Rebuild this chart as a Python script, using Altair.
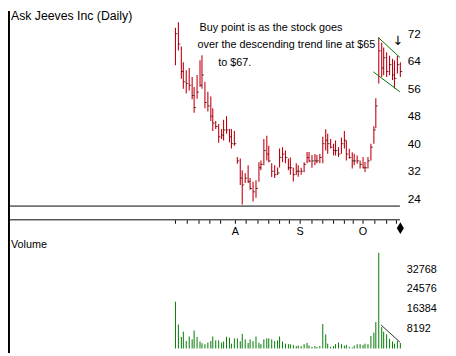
import altair as alt
import pandas as pd

# ---------------- data ----------------
high = [73.7, 75.3, 68.3, 63.7, 61.4, 62.0, 59.4, 56.5, 60.0, 64.3,
        65.7, 58.0, 55.1, 53.7, 50.3, 46.6, 45.7, 44.3, 47.0, 48.0,
        44.3, 44.3, 43.7, 36.1, 35.7, 32.3, 31.4, 33.7, 30.0, 28.9,
        29.4, 34.6, 35.1, 41.4, 42.3, 39.4, 34.3, 33.7, 33.1, 38.6,
        39.0, 38.0, 35.7, 36.0, 33.0, 34.3, 33.7, 33.0, 34.6, 37.6,
        37.6, 36.7, 37.0, 36.7, 37.0, 42.0, 44.2, 42.9, 41.4, 40.0,
        40.9, 39.0, 41.8, 43.7, 40.9, 38.5, 37.5, 37.1, 36.6, 35.1,
        36.1, 34.7, 36.1, 40.0, 45.1, 53.2, 70.9, 69.4, 68.0, 66.6,
        65.6, 64.7, 64.2, 65.6, 63.7]
low = [62.8, 67.1, 58.9, 56.0, 54.6, 55.5, 52.9, 49.0, 53.1, 56.6,
       56.0, 50.3, 49.4, 46.6, 43.7, 44.3, 40.3, 41.4, 40.9, 42.9,
       40.4, 38.6, 39.4, 34.2, 28.0, 22.3, 28.6, 28.6, 26.6, 23.2,
       24.3, 28.9, 32.3, 33.7, 35.1, 34.6, 30.3, 30.0, 30.9, 33.1,
       34.6, 34.3, 32.3, 31.0, 29.0, 30.9, 30.4, 31.0, 31.7, 34.3,
       34.6, 33.0, 33.7, 34.3, 34.3, 34.3, 38.0, 37.1, 38.6, 36.6,
       36.6, 36.1, 37.1, 38.6, 35.1, 35.6, 32.8, 33.7, 34.2, 32.8,
       32.8, 31.8, 32.8, 35.1, 40.0, 44.5, 57.5, 59.4, 59.9, 59.4,
       59.9, 58.5, 56.1, 60.4, 59.4]
close = [72, 69, 61, 58, 57.5, 57, 54, 50.5, 55, 57,
         60, 52, 51, 48, 46, 45, 42, 42.5, 44, 44,
         42, 40, 40, 35, 30, 28, 30, 29, 27, 26,
         27, 33, 34, 38, 37, 35, 32, 31, 31.5, 36,
         37, 36, 33, 33, 31, 32, 32, 32, 34, 36,
         35, 35, 35, 35, 36, 40, 41, 40, 39, 38,
         38, 37, 40, 41, 37, 36, 35, 35, 35, 34,
         33, 33, 35, 39, 44, 51, 67, 62, 65, 61,
         63, 60, 59, 63, 61]
volume = [19500, 10000, 4800, 7000, 3100, 5000, 3800, 7500, 4800, 2900,
          2200, 1800, 2500, 3100, 5000, 3400, 3400, 2500, 2900, 4900,
          4500, 2000, 4200, 4200, 3000, 6100, 3800, 2300, 3800, 3100,
          5000, 2400, 1800, 3800, 4200, 4200, 3800, 3100, 3400, 5000,
          2900, 2000, 1800, 1800, 1500, 1000, 1200, 1000, 1800, 2300,
          1200, 700, 1000, 600, 1000, 10200, 5900, 2000, 700, 1000,
          1800, 2500, 1800, 1200, 1500, 700, 400, 1200, 1800, 1800,
          1500, 2000, 1800, 5200, 6600, 11000, 39900, 8900, 7000, 5900,
          4000, 2900, 2000, 3100, 2300]

price_ticks = [24, 32, 40, 48, 56, 64, 72]
volume_ticks = [8192, 16384, 24576, 32768]
month_names = ["A", "S", "O"]
month_idx = [22.3, 46.6, 70.1]
week_idx = [0, 4.3, 8.7, 12.8, 16.8, 22.3, 26.4, 30.8, 34.8, 38.9, 42.5,
            46.6, 50.9, 54.9, 59.0, 63.0, 66.4, 70.1, 74.5, 78.9, 82.6]

# trend lines (bar index, price) and volume trend line (bar index, volume)
trend_x1 = [76.2, 74.2]
trend_p1 = [70.9, 60.9]
trend_x2 = [84.0, 84.0]
trend_p2 = [65.1, 55.1]
vtrend_x1 = [77.2]
vtrend_v1 = [9750]
vtrend_x2 = [84.0]
vtrend_v2 = [2660]

title_text = "Ask Jeeves Inc (Daily)"
note_lines = ["Buy point is as the stock goes",
              "over the descending trend line at $65",
              "to $67."]
arrow_idx = [83.5]
arrow_price = [69.9]

# ---------------- styling ----------------
RED = "#c00010"
GREEN = "#007a00"
FONT = "Liberation Sans"

xs = alt.Scale(domain=[0, 84], range=[170.3, 398.7], round=True, zero=False, nice=False)
ps = alt.Scale(domain=[24, 72], range=[191, 23], zero=False, nice=False)
vs = alt.Scale(domain=[0, 32768], range=[343.5, 263.5], zero=False, nice=False)

df = pd.DataFrame({"idx": list(range(len(high))), "high": high, "low": low,
                   "close": close, "volume": volume})
X = alt.X("idx:Q", scale=xs, axis=None)

bars = alt.Chart(df).mark_rule(color=RED, strokeWidth=1.1, xOffset=0.5).encode(
    x=X, y=alt.Y("low:Q", scale=ps, axis=None), y2="high:Q")
closes = alt.Chart(df).mark_tick(orient="horizontal", size=2, thickness=1,
                                 color="black", xOffset=1.5).encode(
    x=X, y=alt.Y("close:Q", scale=ps, axis=None))
vbars = alt.Chart(df).mark_rule(color=GREEN, strokeWidth=1, xOffset=0.5).encode(
    x=X, y=alt.Y("volume:Q", scale=vs, axis=None), y2=alt.datum(0))

plabels = alt.Chart(pd.DataFrame({"p": price_ticks})).mark_text(
    align="left", baseline="middle", fontSize=12, font=FONT, color="black").encode(
    x=alt.value(407), y=alt.Y("p:Q", scale=ps, axis=None), text=alt.Text("p:Q", format="d"))
vlabels = alt.Chart(pd.DataFrame({"v": volume_ticks})).mark_text(
    align="left", baseline="middle", fontSize=11, font=FONT, color="black").encode(
    x=alt.value(406), y=alt.Y("v:Q", scale=vs, axis=None), text=alt.Text("v:Q", format="d"))

one = pd.DataFrame({"a": [0]})
panel_line = alt.Chart(one).mark_rule(color="black", strokeWidth=1).encode(
    x=alt.value(0), x2=alt.value(399), y=alt.value(198.5))
axis_line = alt.Chart(one).mark_rule(color="black", strokeWidth=1).encode(
    x=alt.value(0), x2=alt.value(399), y=alt.value(212.5))
left_border = alt.Chart(one).mark_rule(color="black", strokeWidth=2).encode(
    x=alt.value(1), y=alt.value(0), y2=alt.value(348))

wticks = alt.Chart(pd.DataFrame({"w": week_idx})).mark_rule(
    color="black", strokeWidth=1, xOffset=0.5).encode(
    x=alt.X("w:Q", scale=xs, axis=None), y=alt.value(213), y2=alt.value(216.5))
mlabels = alt.Chart(pd.DataFrame({"m": month_idx, "name": month_names})).mark_text(
    align="center", baseline="alphabetic", fontSize=11, font=FONT, color="black", dx=0.5).encode(
    x=alt.X("m:Q", scale=xs, axis=None), y=alt.value(227.5), text="name:N")

diamond = alt.Chart(pd.DataFrame({"d": [len(high) - 1]})).mark_point(
    shape="M0,-1L0.6,0L0,1L-0.6,0Z", filled=True, color="black", opacity=1,
    size=144, xOffset=0.5).encode(
    x=alt.X("d:Q", scale=xs, axis=None), y=alt.value(221))

trend = alt.Chart(pd.DataFrame({"x1": trend_x1, "p1": trend_p1,
                                "x2": trend_x2, "p2": trend_p2})).mark_rule(
    color=GREEN, strokeWidth=1).encode(
    x=alt.X("x1:Q", scale=xs, axis=None), x2="x2:Q",
    y=alt.Y("p1:Q", scale=ps, axis=None), y2="p2:Q")
vtrend = alt.Chart(pd.DataFrame({"x1": vtrend_x1, "v1": vtrend_v1,
                                 "x2": vtrend_x2, "v2": vtrend_v2})).mark_rule(
    color="#303030", strokeWidth=1).encode(
    x=alt.X("x1:Q", scale=xs, axis=None), x2="x2:Q",
    y=alt.Y("v1:Q", scale=vs, axis=None), y2="v2:Q")

arrow = alt.Chart(pd.DataFrame({"x": arrow_idx, "p": arrow_price, "t": ["↓"]})).mark_text(
    align="center", baseline="middle", fontSize=13, font="DejaVu Sans", color="black").encode(
    x=alt.X("x:Q", scale=xs, axis=None), y=alt.Y("p:Q", scale=ps, axis=None), text="t:N")


def label(txt, x, y, size=11):
    return alt.Chart(pd.DataFrame({"t": [txt]})).mark_text(
        align="left", baseline="alphabetic", fontSize=size, font=FONT, color="black").encode(
        x=alt.value(x), y=alt.value(y), text="t:N")


title = label(title_text, 3, 9.5, size=12.5)
vol_title = label("Volume", 3, 241.5)
note1 = label(note_lines[0], 195, 20)
note2 = label(note_lines[1], 193, 38)
note3 = label(note_lines[2], 214, 56)

chart = alt.layer(
    left_border, panel_line, axis_line, wticks, mlabels, diamond,
    vbars, vtrend, bars, closes, trend, arrow,
    plabels, vlabels, title, vol_title, note1, note2, note3,
).resolve_scale(y="independent").properties(
    width=448, height=348,
    autosize=alt.AutoSizeParams(type="none"),
    padding=0, background="white",
).configure_view(stroke=None)

chart.save("out.html", embed_options={"renderer": "svg", "actions": False})
